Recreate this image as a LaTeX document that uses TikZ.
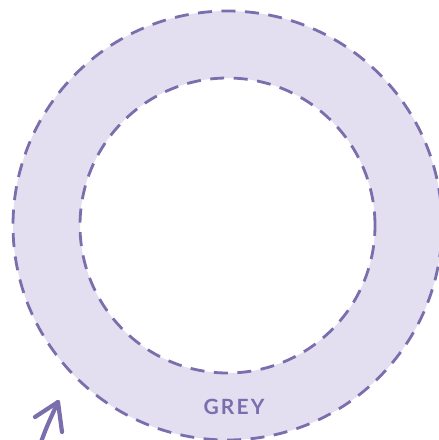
\documentclass[tikz,border=0pt]{standalone}
\usepackage{fontspec}
\newfontfamily\labelfont[LetterSpace=10]{Lato}
\definecolor{ringfill}{HTML}{E3DFF0}
\definecolor{ringline}{HTML}{7A6EAD}
\begin{document}
\begin{tikzpicture}[x=1pt, y=1pt]
  % Frame
  \useasboundingbox (0,0) rectangle (439,440);
  \clip (0,0) rectangle (439,440);

  % Centre and radii
  \coordinate (C) at (227.5,214.5);
  \def\outerR{214.5}
  \def\innerR{147.5}

  % Ring
  \fill[ringfill, even odd rule] (C) circle (\outerR) (C) circle (\innerR);
  \draw[ringline, line width=2.8, dash pattern=on 14 off 9.5] (C) circle (\outerR);
  \draw[ringline, line width=2.8, dash pattern=on 14 off 9.5] (C) circle (\innerR);

  % Label
  \node[text=ringline, font=\labelfont\bfseries\fontsize{21}{25}\selectfont] (grey) at (234,33) {GREY};

  % Arrow
  \coordinate (S) at (41,-2);
  \coordinate (T) at (58,38);
  \coordinate (L) at (35,23);
  \coordinate (R) at (62,8);
  \draw[ringline, line width=4.2, line cap=round, line join=round] (S) .. controls (47,14) .. (T);
  \draw[ringline, line width=4.2, line cap=round, line join=round] (L) -- (T) -- (R);
\end{tikzpicture}
\end{document}
